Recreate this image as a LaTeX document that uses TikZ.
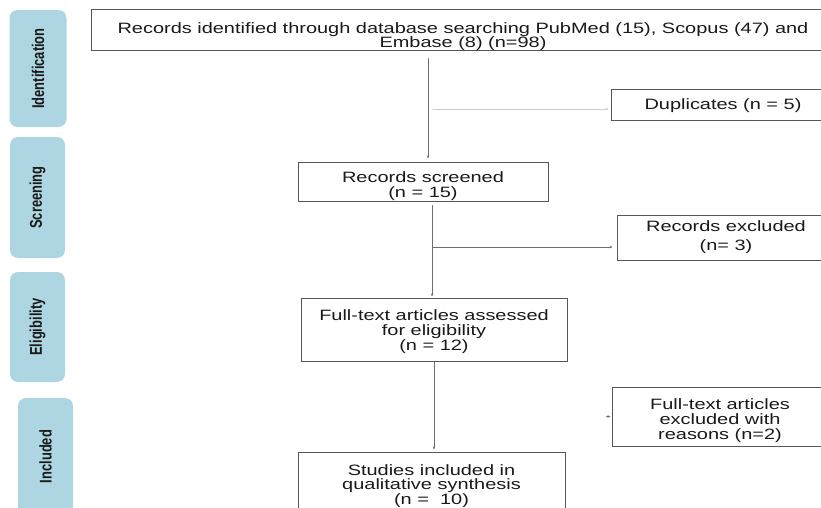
\documentclass[tikz,border=0pt]{standalone}
\usepackage{fontspec}
\setmainfont{Liberation Sans}[FakeStretch=1.33]
\newfontfamily\tabfont{Liberation Sans}[FakeStretch=0.76]
\usetikzlibrary{arrows.meta}
\definecolor{tabblue}{RGB}{174,214,226}
\definecolor{boxgray}{RGB}{85,85,85}
\definecolor{linkgray}{RGB}{110,110,110}
\definecolor{faintgray}{RGB}{205,205,205}
\definecolor{inkgray}{RGB}{25,25,25}
\newcommand{\padtop}[1]{\rule{0pt}{#1}}
\begin{document}
\begin{tikzpicture}[x=1pt,y=-1pt,line cap=round,
    stage/.style={draw=boxgray,line width=1pt,inner sep=0pt,align=center,text=inkgray,
      font=\fontsize{15}{15}\selectfont},
    spread/.style={font=\fontsize{15}{#1}\selectfont},
    phase/.style={fill=tabblue,rounded corners=8pt,rotate=90,inner sep=0pt,text=inkgray,
      font=\tabfont\bfseries\fontsize{17}{18}\selectfont},
    link/.style={draw=linkgray,line width=0.8pt,-{Stealth[length=3pt,width=2.5pt]}},
    faint/.style={link,draw=faintgray}]
    \useasboundingbox (0,0) rectangle (821,508);
    \clip (0,0) rectangle (821,508);
    \node[phase,minimum width=117,minimum height=57] (tabid) at (38,68.5) {Identification};
    \node[phase,minimum width=121,minimum height=55] (tabscr) at (37.5,197.5) {Screening};
    \node[phase,minimum width=110,minimum height=55] (tabel) at (37.5,327) {Eligibility};
    \node[phase,minimum width=117,minimum height=55] (tabinc) at (45.5,456.5) {Included};
    \node[stage,spread=14.5,minimum width=744,minimum height=41] (ident) at (463,30.5)
      {\padtop{23pt}Records identified through database searching PubMed (15), Scopus (47) and\\Embase (8) (n=98)};
    \node[stage,minimum width=224,minimum height=31] (dup) at (723,105.5) {Duplicates (n = 5)};
    \node[stage,spread=14.5,minimum width=250,minimum height=39] (screened) at (423,181.5)
      {\padtop{20.5pt}Records screened\\(n = 15)};
    \node[stage,spread=19,minimum width=218,minimum height=45] (excl) at (726,237.5) {Records excluded\\(n= 3)};
    \node[stage,minimum width=266,minimum height=63] (assessed) at (434,329.5)
      {\padtop{14.5pt}Full-text articles assessed\\for eligibility\\(n = 12)};
    \node[stage,minimum width=216,minimum height=59] (ftexcl) at (720,416.5)
      {\padtop{18.5pt}Full-text articles\\excluded with\\reasons (n=2)};
    \node[stage,spread=14.5,minimum width=267,minimum height=63] (studies) at (431.5,483.5)
      {\padtop{16pt}Studies included in\\qualitative synthesis\\(n = \ 10)};
    \coordinate (trunkA) at (428,0); \coordinate (trunkB) at (432,0);
    \coordinate (brA) at (433,109); \coordinate (brB) at (433,247);
    \draw[link,shorten <=7pt,shorten >=3pt] (ident.south -| trunkA) -- (screened.north -| trunkA);
    \draw[faint,shorten >=2pt] (brA) -- (brA -| dup.west);
    \draw[link,shorten <=4pt,shorten >=1pt] (screened.south -| trunkB) -- (assessed.north -| trunkB);
    \draw[link,shorten >=4pt] (brB) -- (brB -| excl.west);
    \draw[link,shorten >=2pt] (assessed.south) -- (studies.north -| assessed.south);
    \draw[link] ([xshift=-5pt]ftexcl.west) -- ([xshift=-1pt]ftexcl.west);
  \end{tikzpicture}
\end{document}
